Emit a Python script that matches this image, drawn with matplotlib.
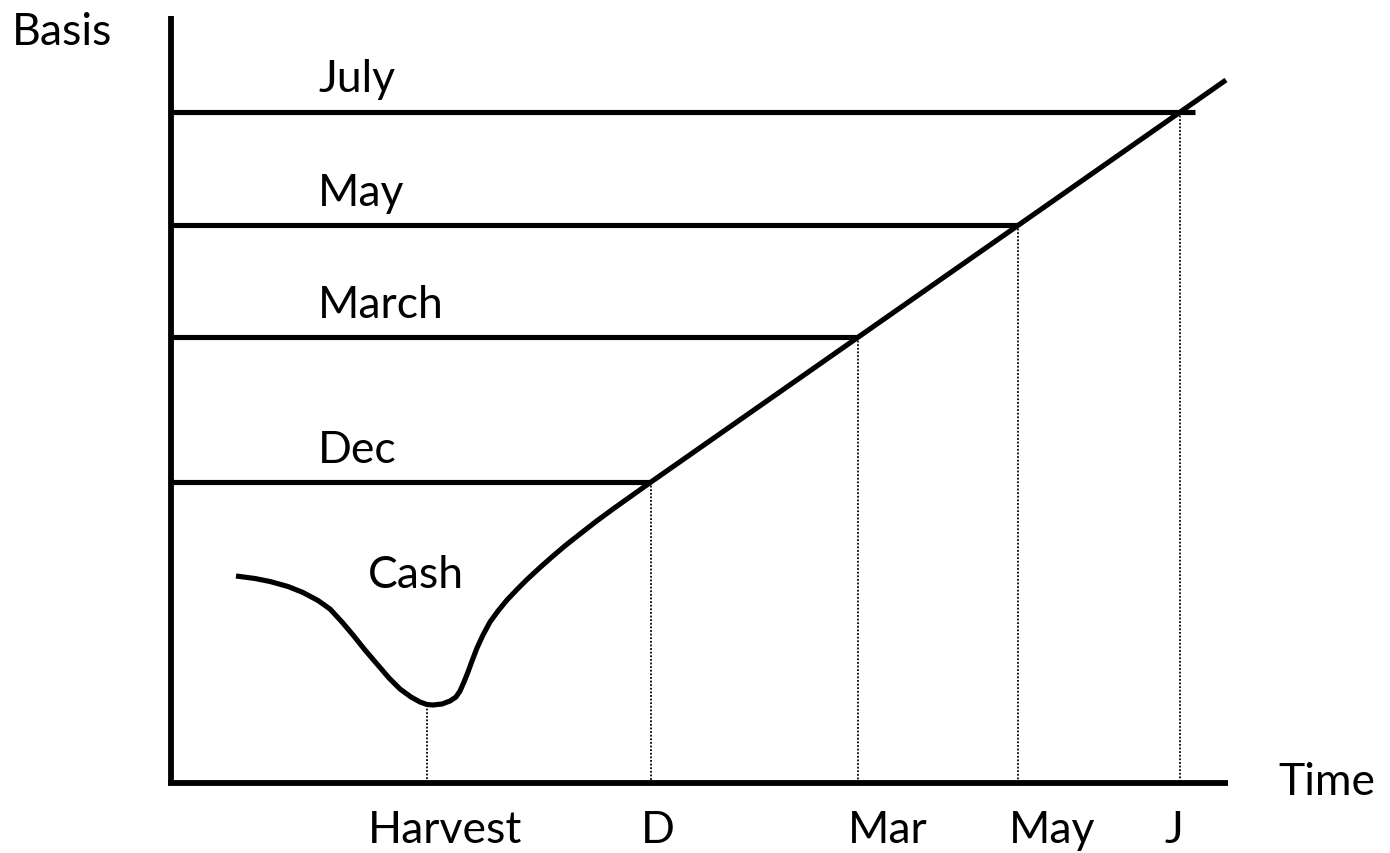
import matplotlib
matplotlib.use("Agg")
import matplotlib.pyplot as plt

# ---- data (in picture pixel units; y grows downward) ----
contracts = ["Dec", "March", "May", "July"]
contract_level = [483, 338, 226, 113]          # basis level of each futures contract
contract_end_x = [651, 857, 1018, 1195]        # where each horizontal line stops
contract_label_base = [463, 318, 206, 92]      # label baselines

cash_x = [236, 255, 270, 288, 303, 318, 330, 342, 353, 365, 377, 389, 400, 411, 420,
          427, 433, 442, 450, 456, 460, 464, 468, 472, 477, 483, 490, 498, 507, 517,
          527, 540, 553, 566, 580, 596, 613, 632, 651]
cash_y = [577, 579.5, 582.5, 587.5, 593.5, 601.5, 610, 623, 636, 651, 665, 679, 690, 698, 703,
          705.5, 706, 705, 702, 698, 692, 683, 673, 662, 649, 636, 623, 612, 601, 590.5,
          580.5, 568.5, 557, 546, 535, 522.5, 510, 496.5, 483]

trend_x = [651, 1226]
trend_y = [483, 81]

tick_labels = ["Harvest", "D", "Mar", "May", "J"]
tick_x = [427, 651, 858, 1018, 1180]
tick_top = [706, 483, 338, 226, 113]
tick_label_x = [368, 641, 848, 1009, 1164]

axis_x0, axis_y0 = 171, 784
axis_x1, axis_ytop = 1228, 17

FONT = "Lato"
FS = 32

fig = plt.figure(figsize=(13.9, 8.54), dpi=100)
ax = fig.add_axes([0, 0, 1, 1])
ax.set_xlim(0, 1390)
ax.set_ylim(854, 0)
ax.axis("off")

LW = 3.7
# axes
ax.plot([axis_x0, axis_x0], [axis_ytop, axis_y0 + 2], color="black", lw=4.2, solid_capstyle="butt")
ax.plot([axis_x0 - 3, axis_x1], [axis_y0, axis_y0], color="black", lw=4.2, solid_capstyle="butt")

# dotted verticals
for x, top in zip(tick_x, tick_top):
    ax.plot([x, x], [top, axis_y0], color="black", lw=1.3, linestyle=(0, (1, 1)))

# contract lines
for lvl, xe in zip(contract_level, contract_end_x):
    ax.plot([axis_x0, xe], [lvl, lvl], color="black", lw=LW, solid_capstyle="butt")

# cash curve + trend
ax.plot(cash_x, cash_y, color="black", lw=LW, solid_joinstyle="round", solid_capstyle="butt")
ax.plot(trend_x, trend_y, color="black", lw=LW, solid_capstyle="butt")

# labels
for name, base in zip(contracts, contract_label_base):
    ax.text(318, base, name, fontsize=FS, family=FONT, ha="left", va="baseline")
ax.text(368, 588, "Cash", fontsize=FS, family=FONT, ha="left", va="baseline")
for lab, lx in zip(tick_labels, tick_label_x):
    ax.text(lx, 843, lab, fontsize=FS, family=FONT, ha="left", va="baseline")
ax.text(12, 45, "Basis", fontsize=FS, family=FONT, ha="left", va="baseline")
ax.text(1278, 795, "Time", fontsize=FS, family=FONT, ha="left", va="baseline")

fig.savefig("out.png", dpi=100)
